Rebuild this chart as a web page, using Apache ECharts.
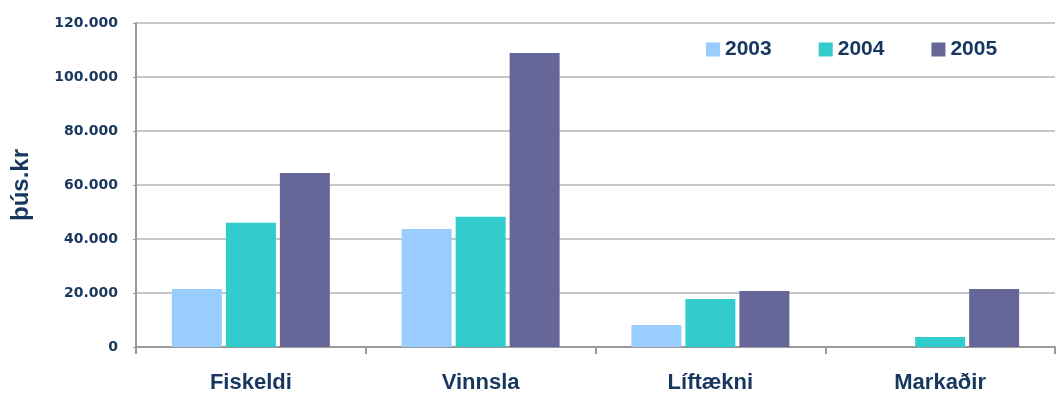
<!DOCTYPE html>
<html>
<head>
<meta charset="utf-8">
<script src="https://cdn.jsdelivr.net/npm/echarts@6/dist/echarts.min.js"></script>
<style>
  html, body { margin: 0; padding: 0; background: #fff; }
  #main { width: 1058px; height: 394px; }
</style>
</head>
<body>
<div id="main"></div>
<script>
var categories = ['Fiskeldi', 'Vinnsla', 'Líftækni', 'Markaðir'];
var years = ['2003', '2004', '2005'];
var values2003 = [21500, 43700, 8150, 0];
var values2004 = [46000, 48200, 17800, 3700];
var values2005 = [64400, 108900, 20700, 21500];

var navy = '#17375e';

var dom = document.getElementById('main');
var myChart = echarts.init(dom, null, { renderer: 'canvas' });

function fmt(v) {
  return String(v).replace(/\B(?=(\d{3})+(?!\d))/g, '.');
}

var option = {
  animation: false,
  color: ['#99ccff', '#33cccc', '#666699'],
  grid: { left: 136, right: 3, top: 23, bottom: 47, outerBoundsMode: 'none', containLabel: false },
  legend: {
    data: years,
    left: 680,
    top: 27,
    padding: [12, 20, 12, 26],
    backgroundColor: '#fff',
    itemWidth: 14,
    itemHeight: 14,
    itemGap: 47,
    icon: 'rect',
    textStyle: { color: navy, fontSize: 21, fontWeight: 'bold', fontFamily: 'Liberation Sans' }
  },
  xAxis: {
    type: 'category',
    data: categories,
    axisLine: { lineStyle: { color: '#999', width: 2 } },
    axisTick: { show: true, length: 7, lineStyle: { color: '#999', width: 2 } },
    axisLabel: { color: navy, fontSize: 22, fontWeight: 'bold', fontFamily: 'Liberation Sans', margin: 25 }
  },
  yAxis: {
    type: 'value',
    min: 0,
    max: 120000,
    interval: 20000,
    name: 'þús.kr',
    nameLocation: 'middle',
    nameRotate: 90,
    nameGap: 103,
    nameTextStyle: { color: navy, fontSize: 24, fontWeight: 'bold', fontFamily: 'Liberation Sans' },
    axisLine: { show: true, lineStyle: { color: '#999', width: 2 } },
    axisTick: { show: true, length: 3, lineStyle: { color: '#999', width: 1 } },
    axisLabel: {
      color: navy, fontSize: 14, fontWeight: 'bold', fontFamily: 'DejaVu Sans', margin: 18,
      formatter: fmt
    },
    splitLine: { lineStyle: { color: '#c8c8c8', width: 2 } }
  },
  series: [
    { name: '2003', type: 'bar', data: values2003, barWidth: 50, barGap: '8%' },
    { name: '2004', type: 'bar', data: values2004, barWidth: 50, barGap: '8%' },
    { name: '2005', type: 'bar', data: values2005, barWidth: 50, barGap: '8%' }
  ]
};

if (option && typeof option === 'object') {
  myChart.setOption(option);
}

window.addEventListener('resize', myChart.resize);
</script>
</body>
</html>
